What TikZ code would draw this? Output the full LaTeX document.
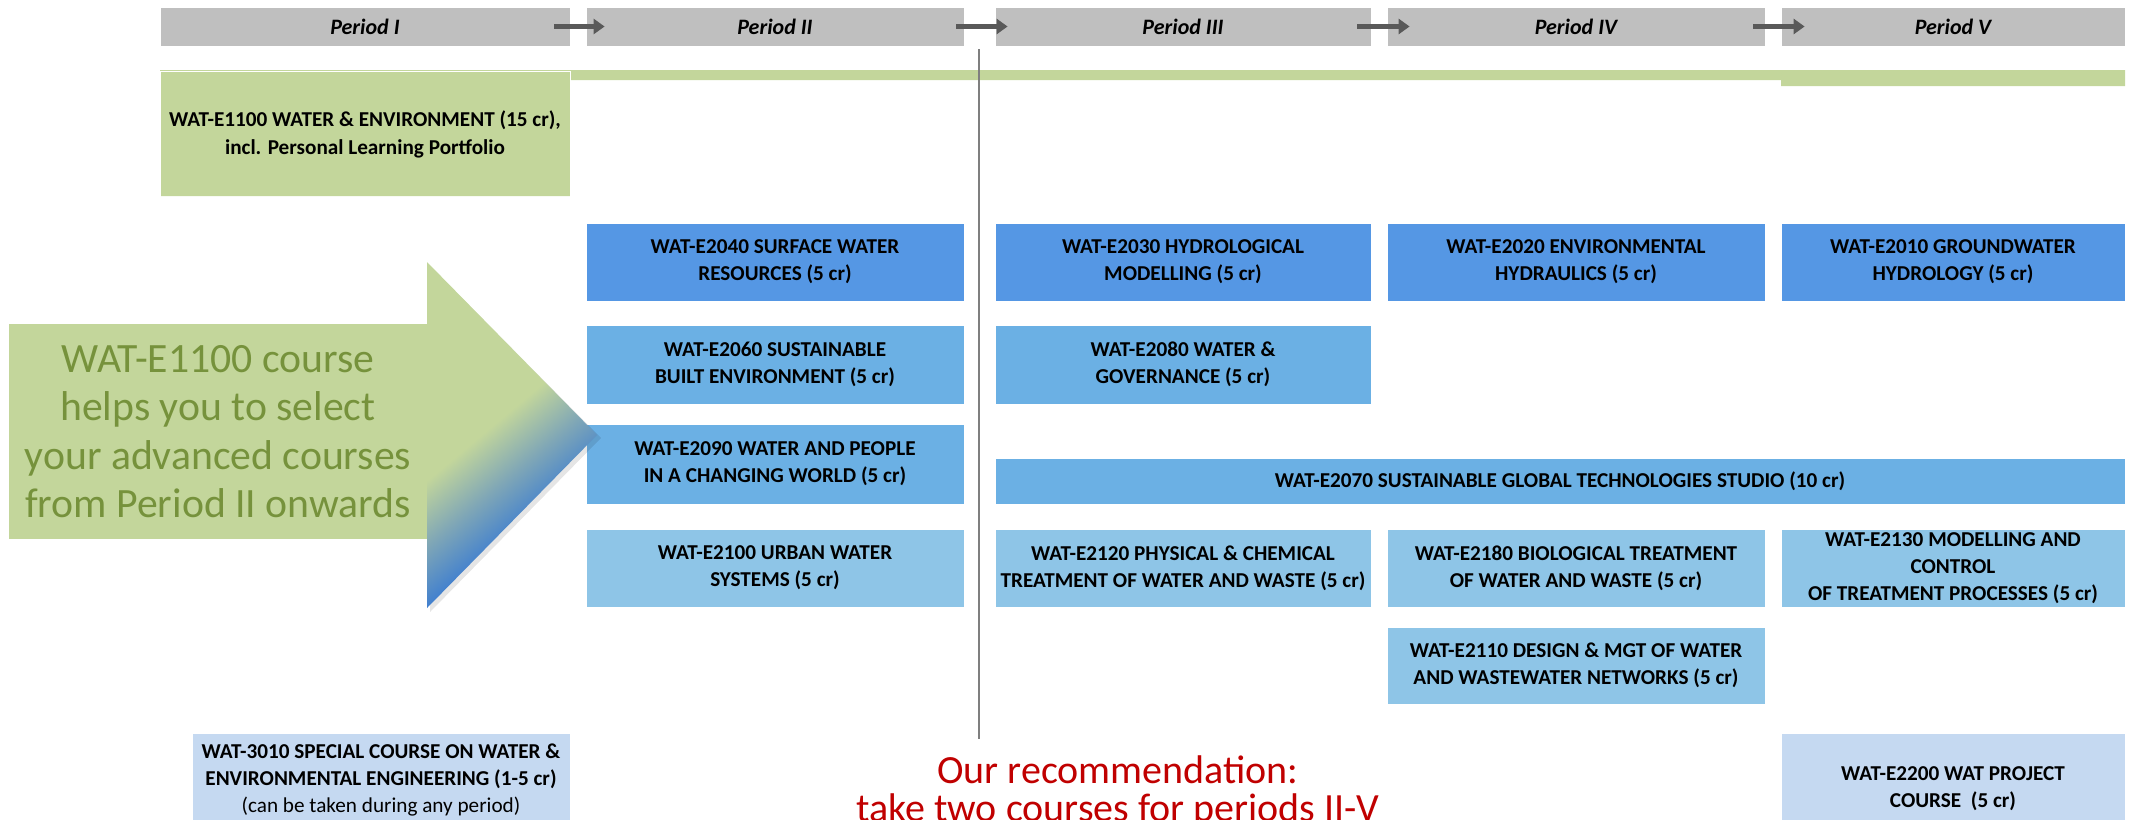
\documentclass[tikz,border=0pt]{standalone}
\usepackage{fontspec}
\setmainfont{Carlito}
\usetikzlibrary{arrows.meta}
\definecolor{hdr}{HTML}{BFBFBF}
\definecolor{harrow}{HTML}{595959}
\definecolor{lgreen}{HTML}{C3D69B}
\definecolor{tgreen}{HTML}{76923C}
\definecolor{bdark}{HTML}{5597E4}
\definecolor{bmid}{HTML}{6BB0E4}
\definecolor{blight}{HTML}{8EC5E7}
\definecolor{bpale}{HTML}{C5D9F1}
\definecolor{vline}{HTML}{7F7F7F}
\definecolor{recred}{HTML}{C00000}
\definecolor{ablue}{HTML}{3E7ED0}
\definecolor{amid}{HTML}{80A7B6}
\pgfdeclareverticalshading{arrowshade}{100bp}{color(0bp)=(ablue); color(42bp)=(ablue); color(47bp)=(amid); color(52bp)=(lgreen); color(100bp)=(lgreen)}
\tikzset{
  period/.style={fill=hdr, draw=white, line width=0.8pt, inner sep=0pt, font=\fontsize{22}{26}\selectfont\bfseries\itshape},
  parrow/.style={draw=harrow, line width=5pt, -{Triangle[length=11pt,width=15pt]}},
  course/.style={draw=white, line width=0.8pt, inner sep=0pt, align=center, font=\fontsize{21.2}{27}\selectfont\bfseries},
  helptext/.style={fill=lgreen, inner sep=0pt, align=center, text=tgreen, font=\fontsize{41.7}{48.3}\selectfont},
  rectext/.style={inner sep=0pt, align=center, text=recred, font=\fontsize{40}{38.5}\selectfont}
}
\newcommand\cbox[7]{\node[course, fill=#6, minimum width={(#4-#2)*1pt}, minimum height={(#5-#3)*1pt}] (#1) at ({(#2+#4)/2},{(#3+#5)/2}) {#7};}
\newcommand\pbox[4]{\node[period, minimum width={(#3-#2)*1pt}, minimum height=39pt] (#1) at ({(#2+#3)/2},26.5) {#4};}
\begin{document}
\begin{tikzpicture}[x=1pt,y=-1pt]
\useasboundingbox (0,0) rectangle (2132,819);
\clip (0,0) rectangle (2132,819);
% period headers
\pbox{p1}{160}{570}{Period I}
\pbox{p2}{586}{964}{Period II}
\pbox{p3}{995}{1371}{Period III}
\pbox{p4}{1387}{1765}{Period IV}
\pbox{p5}{1781}{2125}{Period V}
\draw[parrow] ([xshift=-16pt]p1.east) -- ([xshift=19pt]p2.west);
\draw[parrow] ([xshift=-8pt]p2.east) -- ([xshift=13pt]p3.west);
\draw[parrow] ([xshift=-14pt]p3.east) -- ([xshift=23pt]p4.west);
\draw[parrow] ([xshift=-12pt]p4.east) -- ([xshift=24pt]p5.west);
% green bar and E1100
\fill[lgreen] (160,70) -- (2125,70) -- (2125,86) -- (1781,86) -- (1781,80) -- (570,80) -- (570,196) -- (160,196) -- cycle;
\node[course, minimum width=410pt, minimum height=126pt, font=\fontsize{21.2}{28}\selectfont\bfseries] (e1100) at (365,134) {WAT-E1100 WATER \& ENVIRONMENT (15 cr),\\incl. Personal Learning Portfolio};
% vertical divider
\coordinate (vtop) at (979,49);
\coordinate (vbot) at (979,739);
\draw[vline, line width=2.5pt] (vtop) -- (vbot);
% course boxes
\cbox{e2040}{586}{223}{964}{301}{bdark}{WAT-E2040 SURFACE WATER\\RESOURCES (5 cr)}
\cbox{e2030}{995}{223}{1371}{301}{bdark}{WAT-E2030 HYDROLOGICAL\\MODELLING (5 cr)}
\cbox{e2020}{1387}{223}{1765}{301}{bdark}{WAT-E2020 ENVIRONMENTAL\\HYDRAULICS (5 cr)}
\cbox{e2010}{1781}{223}{2125}{301}{bdark}{WAT-E2010 GROUNDWATER\\HYDROLOGY (5 cr)}
\cbox{e2060}{586}{325}{964}{404}{bmid}{WAT-E2060 SUSTAINABLE\\BUILT ENVIRONMENT (5 cr)}
\cbox{e2080}{995}{325}{1371}{404}{bmid}{WAT-E2080 WATER \&\\GOVERNANCE (5 cr)}
\cbox{e2090}{586}{424}{964}{504}{bmid}{WAT-E2090 WATER AND PEOPLE\\IN A CHANGING WORLD (5 cr)}
\cbox{e2070}{995}{458}{2125}{504}{bmid}{WAT-E2070 SUSTAINABLE GLOBAL TECHNOLOGIES STUDIO (10 cr)}
\cbox{e2100}{586}{529}{964}{607}{blight}{WAT-E2100 URBAN WATER\\SYSTEMS (5 cr)}
\cbox{e2120}{995}{529}{1371}{607}{blight}{WAT-E2120 PHYSICAL \& CHEMICAL\\TREATMENT OF WATER AND WASTE (5 cr)}
\cbox{e2180}{1387}{529}{1765}{607}{blight}{WAT-E2180 BIOLOGICAL TREATMENT\\OF WATER AND WASTE (5 cr)}
\cbox{e2130}{1781}{529}{2125}{607}{blight}{WAT-E2130 MODELLING AND\\CONTROL\\OF TREATMENT PROCESSES (5 cr)}
\cbox{e2110}{1387}{627}{1765}{704}{blight}{WAT-E2110 DESIGN \& MGT OF WATER\\AND WASTEWATER NETWORKS (5 cr)}
\cbox{w3010}{192}{733}{570}{827}{bpale}{WAT-3010 SPECIAL COURSE ON WATER \&\\ENVIRONMENTAL ENGINEERING (1-5 cr)\\{\mdseries (can be taken during any period)}}
\cbox{e2200}{1781}{733}{2125}{844}{bpale}{WAT-E2200 WAT PROJECT\\COURSE\ \ (5 cr)}
% big arrow
\node[helptext, minimum width=418pt, minimum height=215pt] (help) at (218,431.5) {WAT-E1100 course\\helps you to select\\your advanced courses\\from Period II onwards};
\fill[black, opacity=0.10] (430,266) -- (601,438) -- (430,612) -- cycle;
\begin{scope}
\clip (427,262) -- (597,435) -- (427,608) -- cycle;
\shade[shading=arrowshade, shading angle=40] (262,185) rectangle (762,685);
\end{scope}
% recommendation
\node[rectext] (rec) at (1118,792) {Our recommendation:\\take two courses for periods II-V};
\end{tikzpicture}
\end{document}
